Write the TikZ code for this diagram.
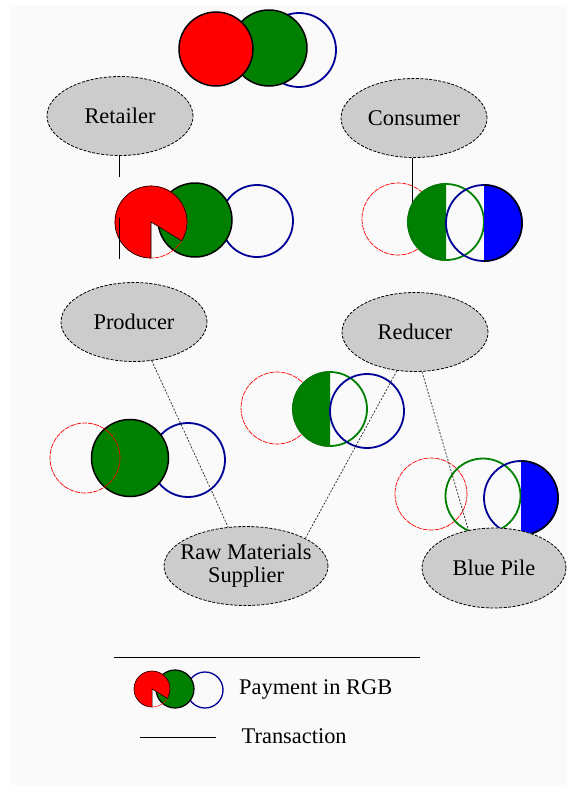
\documentclass[tikz,border=0pt]{standalone}
\usepackage{fontspec}
\setmainfont{Liberation Serif}
\usetikzlibrary{shapes.geometric}

\definecolor{paper}{RGB}{250,250,250}
\definecolor{nodegray}{RGB}{204,204,204}
\definecolor{navy}{RGB}{0,0,150}
\definecolor{darkgreen}{RGB}{0,128,0}

\begin{document}
\begin{tikzpicture}[
		x=1pt, y=-1pt,
		actor/.style={draw, ellipse, fill=nodegray, dash pattern=on 3pt off 1.5pt, line width=0.8pt, minimum width=146pt, minimum height=79pt, inner sep=0pt, align=center, font=\fontsize{22.4}{23}\selectfont},
		trans/.style={line width=0.8pt},
		transdash/.style={line width=0.7pt, black!85, dash pattern=on 2pt off 1.5pt},
		redring/.style={draw=red, line width=0.7pt, dash pattern=on 5pt off 1pt},
		greenring/.style={draw=darkgreen, line width=1.8pt},
		bluering/.style={draw=navy, line width=1.8pt},
		coin/.style={draw=black, line width=1.5pt},
		legendtext/.style={anchor=west, inner sep=0pt, font=\fontsize{22.4}{23}\selectfont}
		]
		
		\useasboundingbox (0,0) rectangle (567,785);
		\fill[paper] (10,5) rectangle (567,785);
		
		% Payments
		\draw[bluering] (299,50) circle[radius=37];
		\draw[coin, fill=darkgreen] (269,48) circle[radius=38];
		\draw[coin, fill=red] (216,49) circle[radius=37];
		
		\draw[bluering] (188,460) circle[radius=37];
		\draw[coin, fill=darkgreen] (130,458) circle[radius=38.5];
		\draw[redring] (85,458) circle[radius=35];
		
		\draw[redring] (277,408) circle[radius=36];
		\draw[coin, fill=darkgreen] ([shift={(90:37)}]330,409) arc[start angle=90, end angle=270, radius=37];
		\draw[greenring] (330,409) circle[radius=37];
		\draw[bluering] (367,411) circle[radius=37];
		
		\draw[redring] (431,494) circle[radius=36];
		\draw[greenring] (483,496) circle[radius=37.5];
		\draw[bluering] (521,498) circle[radius=37];
		\draw[coin, fill=blue] ([shift={(-90:37)}]521,498) arc[start angle=-90, end angle=90, radius=37];
		
		% Nodes
		\node[actor] (retailer) at (120,116) {Retailer};
		\node[actor] (consumer) at (414,118) {Consumer};
		\node[actor] (producer) at (134,322) {Producer};
		\node[actor] (reducer) at (415,332) {Reducer};
		\node[actor, minimum width=164pt, inner xsep=-10pt] (raw) at (246,566) {Raw Materials\\Supplier};
		\node[actor, minimum width=144pt, minimum height=80pt] (pile) at (494,568) {Blue Pile};
		
		% Transactions
		\draw[transdash] (producer) -- (raw);
		\draw[transdash] (reducer.245) -- (raw.25);
		\draw[transdash] (reducer.280) -- (pile.124);
		
		\coordinate (retgap) at (119,177);
		\coordinate (retmid) at (119,218);
		\coordinate (retend) at (119,259);
		\coordinate (conend) at (412,210);
		
		\draw[trans] (retailer.south -| retgap) -- (retgap);
		\draw[bluering] (257,221) circle[radius=36];
		\draw[coin, fill=darkgreen] (195,220) circle[radius=37];
		\draw[redring] (151,222) circle[radius=36];
		\draw[fill=red, line width=0.6pt] (151,222) -- ++(90:36) arc[start angle=90, end angle=391.5, radius=36] -- cycle;
		\draw[trans] (retmid) -- (retend);
		
		\draw[redring] (398,219) circle[radius=36];
		\draw[trans] (consumer.south -| conend) -- (conend);
		\draw[coin, fill=darkgreen] ([shift={(90:38)}]446,222) arc[start angle=90, end angle=270, radius=38];
		\draw[greenring] (446,222) circle[radius=38];
		\draw[bluering] (484,223) circle[radius=38];
		\draw[coin, fill=blue] ([shift={(-90:38)}]484,223) arc[start angle=-90, end angle=90, radius=38];
		
		% Legend
		\draw[line width=0.8pt] (114,657) -- (419.5,657);
		\draw[draw=navy, line width=1.3pt] (205,690) circle[radius=18];
		\draw[coin, line width=1.2pt, fill=darkgreen] (175,689) circle[radius=19];
		\draw[draw=red, line width=0.5pt] (152,689) circle[radius=18];
		\draw[fill=red, line width=0.5pt] (152,689) -- ++(90:18) arc[start angle=90, end angle=391.5, radius=18] -- cycle;
		\node[legendtext] (payment) at (239,689) {Payment in RGB};
		
		\coordinate (txa) at (140,737);
		\coordinate (txb) at (216,737);
		\draw[trans] (txa) -- (txb);
		\node[legendtext] (transaction) at (241.5,736) {Transaction};
		
	\end{tikzpicture}
\end{document}
